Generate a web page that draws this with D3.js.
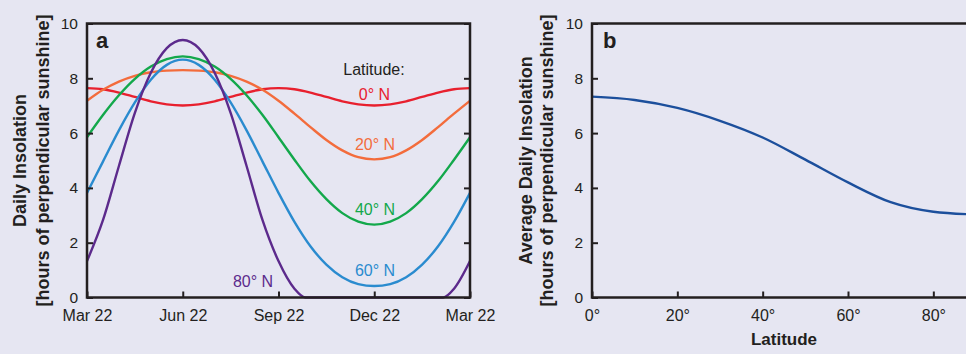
<!DOCTYPE html>
<html>
<head>
<meta charset="utf-8">
<script src="https://cdn.jsdelivr.net/npm/d3@7/dist/d3.min.js"></script>
<style>
  html, body { margin: 0; padding: 0; background: #e6e6f2; }
  svg { display: block; font-family: Arial, "Liberation Sans", Helvetica, sans-serif; }
</style>
</head>
<body>
<svg id="chart" width="966" height="354"></svg>
<script>
// ---------- Data ----------
const monthTickLabels = ["Mar 22", "Jun 22", "Sep 22", "Dec 22", "Mar 22"];
const monthTicks = [0, 3, 6, 9, 12];
const months = [0,0.5,1,1.5,2,2.5,3,3.5,4,4.5,5,5.5,6,6.5,7,7.5,8,8.5,9,9.5,10,10.5,11,11.5,12];
const lat0  = [7.64,7.60,7.48,7.32,7.16,7.05,7.01,7.05,7.16,7.32,7.48,7.60,7.64,7.60,7.48,7.32,7.16,7.05,7.01,7.05,7.16,7.32,7.48,7.60,7.64];
const lat20 = [7.18,7.58,7.88,8.09,8.22,8.28,8.30,8.28,8.22,8.09,7.88,7.58,7.18,6.71,6.22,5.75,5.37,5.12,5.04,5.12,5.37,5.75,6.22,6.71,7.18];
const lat40 = [5.85,6.66,7.38,7.98,8.43,8.70,8.80,8.70,8.43,7.98,7.38,6.66,5.85,5.03,4.25,3.59,3.08,2.77,2.66,2.77,3.08,3.59,4.25,5.03,5.85];
const lat60 = [3.82,4.96,6.10,7.12,7.95,8.49,8.68,8.49,7.95,7.12,6.10,4.96,3.82,2.76,1.87,1.20,0.74,0.49,0.42,0.49,0.74,1.20,1.87,2.76,3.82];
const months80 = [0,0.5,1,1.5,2,2.5,3,3.5,4,4.5,5,5.5,6,6.5,6.84,11.16,11.5,12];
const lat80 = [1.33,2.82,4.80,6.74,8.20,9.10,9.40,9.10,8.20,6.74,4.80,2.82,1.33,0.32,0,0,0.32,1.33];
const seriesNames = ["0° N", "20° N", "40° N", "60° N", "80° N"];
const seriesColors = ["#e8202e", "#f36c3c", "#13a84b", "#2a8bcf", "#5c2a8c"];

const latitudes = [0,10,20,30,40,50,60,70,80,90];
const avgInsolation = [7.33,7.21,6.92,6.45,5.84,5.03,4.20,3.48,3.13,3.03];
const latTicks = [0,20,40,60,80];
const yTicks = [0,2,4,6,8,10];

// ---------- Layout ----------
const svg = d3.select("#chart");
const ink = "#231f20";
const yTop = 23.5, yBottom = 297.5;
const pa = {x0: 87, x1: 470};
const pb = {x0: 592, x1: 976};

const y = d3.scaleLinear().domain([0, 10]).range([yBottom, yTop]);
const xa = d3.scaleLinear().domain([0, 12]).range([pa.x0, pa.x1]);
const xb = d3.scaleLinear().domain([0, 90]).range([pb.x0, pb.x1]);

function styleAxis(g, fs) {
  g.select(".domain").remove();
  g.selectAll(".tick line").attr("stroke", ink).attr("stroke-width", 2);
  g.selectAll(".tick text").attr("fill", ink).style("font-size", fs + "px").style("font-family", "Arial, 'Liberation Sans', sans-serif");
}

// ---------- Panel a ----------
const ga = svg.append("g");
const lineA = d3.line().x(d => xa(d[0])).y(d => y(d[1])).curve(d3.curveMonotoneX);
const seriesData = [
  d3.zip(months, lat0),
  d3.zip(months, lat20),
  d3.zip(months, lat40),
  d3.zip(months, lat60),
  d3.zip(months80, lat80)
];
ga.selectAll("path.series").data(seriesData).join("path")
  .attr("class", "series")
  .attr("d", lineA)
  .attr("fill", "none")
  .attr("stroke", (d, i) => seriesColors[i])
  .attr("stroke-width", 2.4);

ga.append("g").attr("transform", `translate(${pa.x0},0)`)
  .call(d3.axisLeft(y).tickValues(yTicks).tickSize(-6).tickPadding(9))
  .call(g => styleAxis(g, 15.5));
ga.append("g").attr("transform", `translate(${pa.x1},0)`)
  .call(d3.axisRight(y).tickValues(yTicks).tickSize(-6).tickFormat(""))
  .call(g => styleAxis(g, 15.5));
ga.append("g").attr("transform", `translate(0,${yBottom})`)
  .call(d3.axisBottom(xa).tickValues(monthTicks).tickSize(-6).tickPadding(12).tickFormat((d, i) => monthTickLabels[i]))
  .call(g => styleAxis(g, 16));
ga.append("rect").attr("x", pa.x0).attr("y", yTop).attr("width", pa.x1 - pa.x0).attr("height", yBottom - yTop)
  .attr("fill", "none").attr("stroke", ink).attr("stroke-width", 2.5);

ga.append("text").attr("x", 96).attr("y", 48).attr("font-weight", "bold").attr("font-size", 22).attr("fill", ink).text("a");
ga.append("text").attr("x", 374).attr("y", 75).attr("text-anchor", "middle").attr("font-size", 16).attr("fill", ink).text("Latitude:");
const labelPos = [[374.5, 100], [375, 150], [375, 215], [375, 276], [253, 287]];
ga.selectAll("text.slabel").data(seriesNames).join("text")
  .attr("class", "slabel")
  .attr("x", (d, i) => labelPos[i][0]).attr("y", (d, i) => labelPos[i][1])
  .attr("text-anchor", "middle").attr("font-size", 16)
  .attr("fill", (d, i) => seriesColors[i]).text(d => d);

const ya = ga.append("text").attr("transform", `translate(26,${(yTop + yBottom) / 2}) rotate(-90)`)
  .attr("text-anchor", "middle").attr("font-weight", "bold").attr("font-size", 18).attr("fill", ink);
ya.append("tspan").attr("x", 0).attr("y", 0).text("Daily Insolation");
ya.append("tspan").attr("x", 0).attr("y", 23).text("[hours of perpendicular sunshine]");

// ---------- Panel b ----------
const gb = svg.append("g");
const lineB = d3.line().x(d => xb(d[0])).y(d => y(d[1])).curve(d3.curveMonotoneX);
gb.append("path").datum(d3.zip(latitudes, avgInsolation))
  .attr("d", lineB).attr("fill", "none").attr("stroke", "#1c4f9c").attr("stroke-width", 2.4);

gb.append("g").attr("transform", `translate(${pb.x0},0)`)
  .call(d3.axisLeft(y).tickValues(yTicks).tickSize(-6).tickPadding(9))
  .call(g => styleAxis(g, 15.5));
gb.append("g").attr("transform", `translate(0,${yBottom})`)
  .call(d3.axisBottom(xb).tickValues(latTicks).tickSize(-6).tickPadding(12).tickFormat(d => d + "°"))
  .call(g => styleAxis(g, 16));
gb.append("rect").attr("x", pb.x0).attr("y", yTop).attr("width", pb.x1 - pb.x0).attr("height", yBottom - yTop)
  .attr("fill", "none").attr("stroke", ink).attr("stroke-width", 2.5);

gb.append("text").attr("x", 603).attr("y", 48).attr("font-weight", "bold").attr("font-size", 22).attr("fill", ink).text("b");
gb.append("text").attr("x", (pb.x0 + pb.x1) / 2).attr("y", 345).attr("text-anchor", "middle")
  .attr("font-weight", "bold").attr("font-size", 17).attr("fill", ink).text("Latitude");

const yb = gb.append("text").attr("transform", `translate(532,${(yTop + yBottom) / 2}) rotate(-90)`)
  .attr("text-anchor", "middle").attr("font-weight", "bold").attr("font-size", 18).attr("fill", ink);
yb.append("tspan").attr("x", 0).attr("y", 0).text("Average Daily Insolation");
yb.append("tspan").attr("x", 0).attr("y", 21).text("[hours of perpendicular sunshine]");
</script>
</body>
</html>
